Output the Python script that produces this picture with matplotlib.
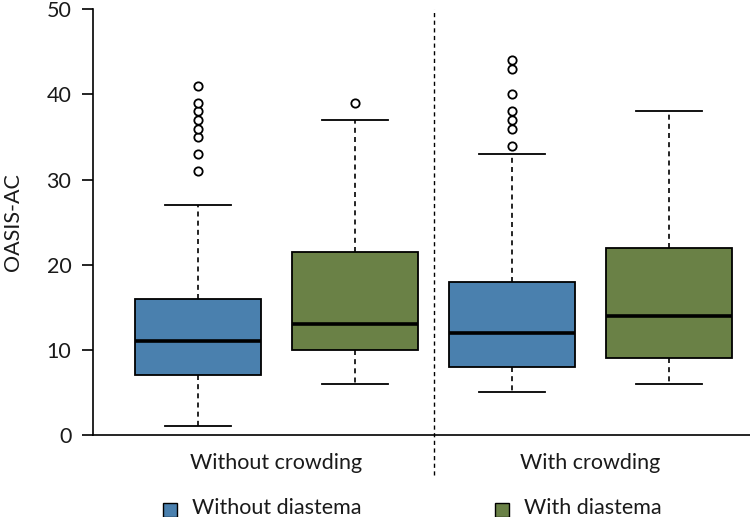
import matplotlib
matplotlib.use("Agg")
import matplotlib.pyplot as plt
from matplotlib.patches import Rectangle

plt.rcParams['font.family'] = ['Lato', 'DejaVu Sans']
plt.rcParams['text.color'] = '#1a1a1a'

# Data
groups = ["Without crowding", "With crowding"]
series = ["Without diastema", "With diastema"]
whislo = [1, 6, 5, 6]
q1 = [7, 10, 8, 9]
med = [11, 13, 12, 14]
q3 = [16, 21.5, 18, 22]
whishi = [27, 37, 33, 38]
fliers = [
    [31, 33, 35, 36, 37, 38, 39, 41],
    [39],
    [34, 36, 37, 38, 40, 43, 44],
    [],
]
yticks = [0, 10, 20, 30, 40, 50]
ylabel = "OASIS-AC"

blue = "#4A80AE"
green = "#6A8146"
colors = [blue, green, blue, green]
FS = 15.5
TC = '#1a1a1a'

fig = plt.figure(figsize=(7.5, 5.17), dpi=100)
ax = fig.add_axes([0.124, 0.1586, 0.876, 0.8234])

stats = []
for i in range(4):
    stats.append(dict(whislo=whislo[i], q1=q1[i], med=med[i], q3=q3[i],
                      whishi=whishi[i], fliers=fliers[i]))

positions = [1, 2, 3, 4]
bp = ax.bxp(stats, positions=positions, widths=0.8, patch_artist=True,
            showfliers=True,
            boxprops=dict(edgecolor="black", linewidth=1.3),
            medianprops=dict(color="black", linewidth=2.6),
            whiskerprops=dict(color="black", linewidth=1.2, linestyle=(0, (3, 2.5))),
            capprops=dict(color="black", linewidth=1.3),
            capwidths=0.42,
            flierprops=dict(marker="o", markersize=6, markerfacecolor="white",
                            markeredgecolor="black", markeredgewidth=1.3))
for patch, c in zip(bp["boxes"], colors):
    patch.set_facecolor(c)

ax.set_xlim(0.331, 4.516)
ax.set_ylim(0, 50)
ax.set_yticks(yticks)
ax.tick_params(axis="y", labelsize=FS, length=8, width=1.2, color="black",
               labelcolor=TC, pad=7.5)
ax.tick_params(axis="x", length=0, labelsize=FS, labelcolor=TC, pad=13)
ax.set_xticks([1.5, 3.5])
ax.set_xticklabels(groups)
ax.set_ylabel(ylabel, fontsize=FS, labelpad=17, color=TC)
for s in ["top", "right"]:
    ax.spines[s].set_visible(False)
ax.spines["left"].set_linewidth(1.2)
ax.spines["bottom"].set_linewidth(1.2)

# divider
ax.axvline(2.5, ymin=-0.095, ymax=1.0, color="black", linewidth=1.0,
           linestyle=(0, (3, 2.5)), clip_on=False)

# legend
W, H = 750, 517
for xpx, c, lab in [(163, blue, series[0]), (495, green, series[1])]:
    fig.patches.append(Rectangle((xpx / W, (H - 517) / H), 14 / W, 14 / H,
                                 transform=fig.transFigure, facecolor=c,
                                 edgecolor="black", linewidth=1.0))
    fig.text((xpx + 29) / W, (H - 508) / H, lab, fontsize=FS, va="center", ha="left")

fig.savefig("out.png", dpi=100)
